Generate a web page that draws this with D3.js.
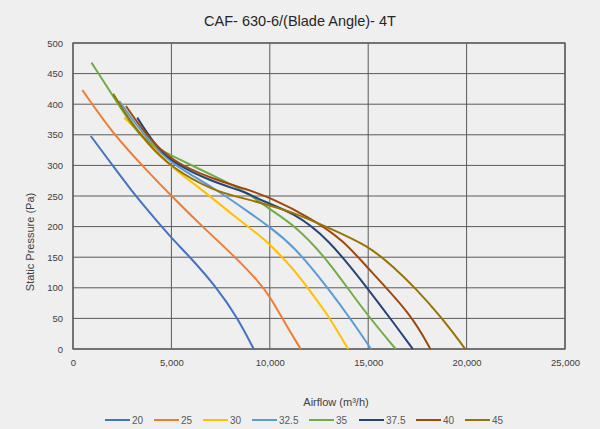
<!DOCTYPE html>
<html>
<head>
<meta charset="utf-8">
<script src="https://cdn.jsdelivr.net/npm/d3@7"></script>
<style>
  body { margin: 0; background: #efefef; }
  svg { display: block; font-family: "Liberation Sans", Arial, sans-serif; }
</style>
</head>
<body>
<svg id="chart"></svg>
<script>
// blade angle series
const bladeAngles = ["20", "25", "30", "32.5", "35", "37.5", "40", "45"];
const seriesColors = ["#4472c4", "#ed7d31", "#ffc000", "#5b9bd5", "#70ad47", "#264478", "#9e480e", "#997300"];

// airflow (m3/h) and static pressure (Pa)
const flow20 = [903, 2040, 2893, 4000, 4985, 5954, 7316, 8337, 9184];
const pres20 = [348, 299, 262, 219, 182, 150, 100, 52, 0];
const flow25 = [480, 2040, 3745, 5000, 6633, 8163, 9497, 10000, 10850, 11570];
const pres25 = [423, 351, 292, 250, 198, 153, 108, 86, 38, 0];
const flow30 = [2602, 3745, 5000, 6296, 8163, 9497, 10000, 11200, 12040, 12930, 13980];
const pres30 = [378, 343, 296, 267, 218, 185, 171, 131, 95, 57, 0];
const flow32 = [2347, 3745, 5000, 7143, 9184, 10000, 11200, 12930, 14290, 15140];
const pres32 = [405, 343, 302, 264, 218, 199, 169, 101, 41, 0];
const flow35 = [939, 2040, 2893, 3745, 5000, 7143, 8847, 10000, 11200, 12930, 14630, 16400];
const pres35 = [468, 413, 370, 337, 316, 283, 256, 228, 204, 147, 68, 0];
const flow37 = [3265, 4082, 5000, 7143, 8847, 9497, 11200, 12930, 15000, 16330, 17270];
const pres37 = [378, 337, 305, 272, 256, 243, 223, 182, 98, 41, 0];
const flow40 = [2689, 3745, 5000, 7143, 8847, 10036, 12040, 13780, 15000, 17180, 18160];
const pres40 = [397, 348, 307, 277, 261, 247, 215, 177, 131, 57, 0];
const flow45 = [2040, 2893, 3745, 5000, 7143, 8847, 10036, 11200, 12930, 15000, 16330, 17350, 18720, 19930];
const pres45 = [417, 373, 337, 296, 258, 245, 234, 223, 199, 169, 133, 101, 52, 0];

const xTicks = [0, 5000, 10000, 15000, 20000, 25000];
const yTicks = [0, 50, 100, 150, 200, 250, 300, 350, 400, 450, 500];

const flows = [flow20, flow25, flow30, flow32, flow35, flow37, flow40, flow45];
const pressures = [pres20, pres25, pres30, pres32, pres35, pres37, pres40, pres45];

const series = bladeAngles.map((name, i) => ({
    name: name,
    color: seriesColors[i],
    values: flows[i].map((f, j) => ({ x: f, y: pressures[i][j] }))
}));

const width = 600, height = 429;
const margin = { top: 43, right: 35, bottom: 80, left: 73 };

const svg = d3.select("#chart")
    .attr("width", width)
    .attr("height", height);

svg.append("rect")
    .attr("width", width)
    .attr("height", height)
    .attr("fill", "#efefef");

const xScale = d3.scaleLinear()
    .domain([0, 25000])
    .range([margin.left, width - margin.right]);

const yScale = d3.scaleLinear()
    .domain([0, 500])
    .range([height - margin.bottom, margin.top]);

// title
svg.append("text")
    .attr("x", 300)
    .attr("y", 26)
    .attr("text-anchor", "middle")
    .style("font-size", "14.5px")
    .style("fill", "#262626")
    .text("CAF- 630-6/(Blade Angle)- 4T");

// grid
const grid = svg.append("g").attr("class", "grid");
grid.selectAll(".hline")
    .data(yTicks)
    .enter()
    .append("line")
    .attr("x1", xScale(0))
    .attr("x2", xScale(25000))
    .attr("y1", d => yScale(d))
    .attr("y2", d => yScale(d))
    .attr("stroke", "#5a5a5a")
    .attr("stroke-width", 1);

grid.selectAll(".vline")
    .data(xTicks)
    .enter()
    .append("line")
    .attr("x1", d => xScale(d))
    .attr("x2", d => xScale(d))
    .attr("y1", yScale(0))
    .attr("y2", yScale(500))
    .attr("stroke", "#5a5a5a")
    .attr("stroke-width", 1);

// plot border
svg.append("rect")
    .attr("x", xScale(0))
    .attr("y", yScale(500))
    .attr("width", xScale(25000) - xScale(0))
    .attr("height", yScale(0) - yScale(500))
    .attr("fill", "none")
    .attr("stroke", "#595959")
    .attr("stroke-width", 1.3);

// axes
const xAxis = d3.axisBottom(xScale)
    .tickValues(xTicks)
    .tickSize(0)
    .tickPadding(10)
    .tickFormat(d3.format(","));

const yAxis = d3.axisLeft(yScale)
    .tickValues(yTicks)
    .tickSize(0)
    .tickPadding(10);

svg.append("g")
    .attr("transform", `translate(0,${yScale(0)})`)
    .call(xAxis)
    .call(g => g.select(".domain").remove())
    .selectAll("text")
    .style("font-size", "9.5px")
    .style("font-family", "'Liberation Sans', Arial, sans-serif")
    .style("fill", "#404040");

svg.append("g")
    .attr("transform", `translate(${xScale(0)},0)`)
    .call(yAxis)
    .call(g => g.select(".domain").remove())
    .selectAll("text")
    .style("font-size", "9.5px")
    .style("font-family", "'Liberation Sans', Arial, sans-serif")
    .style("fill", "#404040");

// curves - basis spline smooths out reading noise
const line = d3.line()
    .x(d => xScale(d.x))
    .y(d => yScale(d.y))
    .curve(d3.curveBasis);

svg.append("g")
    .selectAll("path")
    .data(series)
    .enter()
    .append("path")
    .attr("d", d => line(d.values))
    .attr("fill", "none")
    .attr("stroke", d => d.color)
    .attr("stroke-width", 2);

// axis titles
svg.append("text")
    .attr("transform", "translate(34,242) rotate(-90)")
    .attr("text-anchor", "middle")
    .style("font-size", "11px")
    .style("fill", "#404040")
    .text("Static Pressure (Pa)");

svg.append("text")
    .attr("x", 336)
    .attr("y", 406)
    .attr("text-anchor", "middle")
    .style("font-size", "11px")
    .style("fill", "#404040")
    .text("Airflow (m³/h)");

// legend
const legendX = [105, 154, 203, 252, 309, 359, 416, 465];
const legend = svg.append("g").attr("class", "legend");
const items = legend.selectAll(".item")
    .data(series)
    .enter()
    .append("g")
    .attr("transform", (d, i) => `translate(${legendX[i]},420)`);

items.append("line")
    .attr("x1", 0)
    .attr("x2", 25)
    .attr("stroke", d => d.color)
    .attr("stroke-width", 2);

items.append("text")
    .attr("x", 27)
    .attr("dy", "0.35em")
    .style("font-size", "10px")
    .style("fill", "#595959")
    .text(d => d.name);
</script>
</body>
</html>
